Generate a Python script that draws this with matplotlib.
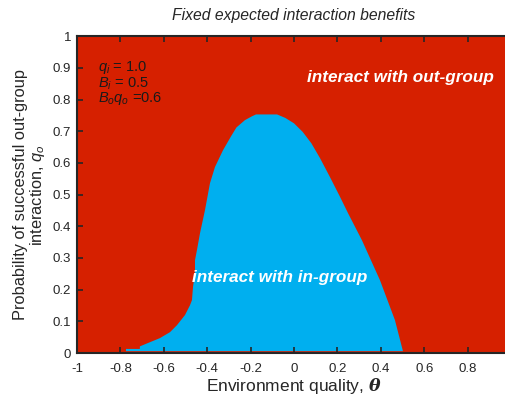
import matplotlib
matplotlib.use("Agg")
import matplotlib.pyplot as plt
import numpy as np

plt.rcParams['font.family'] = ['Liberation Sans', 'DejaVu Sans']
plt.rcParams['mathtext.fontset'] = 'custom'
plt.rcParams['mathtext.it'] = 'Liberation Sans:italic'
plt.rcParams['mathtext.rm'] = 'Liberation Sans'
plt.rcParams['mathtext.bf'] = 'Liberation Sans:bold'
plt.rcParams['mathtext.bfit'] = 'DejaVu Serif:bold:italic'

# Boundary of the "interact with in-group" region
left_theta = [-0.774, -0.774, -0.710, -0.710, -0.668, -0.618, -0.571, -0.539, -0.502,
              -0.479, -0.470, -0.465, -0.456, -0.456, -0.447, -0.433, -0.410, -0.387,
              -0.364, -0.327, -0.290, -0.265, -0.226, -0.194, -0.175]
left_q = [0.006, 0.013, 0.013, 0.021, 0.033, 0.047, 0.066, 0.088, 0.120,
          0.151, 0.167, 0.210, 0.252, 0.293, 0.325, 0.378, 0.451, 0.536,
          0.587, 0.640, 0.684, 0.712, 0.735, 0.747, 0.753]
right_theta = [-0.078, -0.040, 0.000, 0.040, 0.080, 0.120, 0.166, 0.212, 0.250,
               0.313, 0.396, 0.465, 0.502]
right_q = [0.753, 0.742, 0.725, 0.698, 0.662, 0.615, 0.555, 0.493, 0.440,
           0.356, 0.230, 0.104, 0.006]

x_ticks = [-1, -0.8, -0.6, -0.4, -0.2, 0, 0.2, 0.4, 0.6, 0.8]
x_ticklabels = ['-1', '-0.8', '-0.6', '-0.4', '-0.2', '0', '0.2', '0.4', '0.6', '0.8']
y_ticks = [0, 0.1, 0.2, 0.3, 0.4, 0.5, 0.6, 0.7, 0.8, 0.9, 1]
y_ticklabels = ['0', '0.1', '0.2', '0.3', '0.4', '0.5', '0.6', '0.7', '0.8', '0.9', '1']

RED = '#D62000'
BLUE = '#00AFEF'
AX = '#262626'

fig = plt.figure(figsize=(5.06, 4.11), dpi=100)
ax = fig.add_axes([0.152, 0.141, 0.858, 0.771])
ax.set_facecolor(RED)

poly_theta = list(left_theta) + list(right_theta)
poly_q = list(left_q) + list(right_q)
ax.fill(poly_theta, poly_q, color=BLUE, linewidth=0)

ax.set_xlim(-1, 1)
ax.set_ylim(0, 1)
ax.set_xticks(x_ticks)
ax.set_xticklabels(x_ticklabels)
ax.set_yticks(y_ticks)
ax.set_yticklabels(y_ticklabels)
ax.tick_params(direction='in', top=True, right=True, length=4, width=1.2,
               color=AX, labelcolor=AX, labelsize=9.5)
ax.tick_params(axis='x', pad=7)
ax.tick_params(axis='y', pad=4)
for s in ax.spines.values():
    s.set_color(AX)
    s.set_linewidth(1.5)

ax.set_title('Fixed expected interaction benefits', fontstyle='italic',
             fontsize=11.3, color=AX, pad=12)
ax.set_xlabel(r'Environment quality, $\boldsymbol{\theta}$', fontsize=12.5,
              color=AX, labelpad=1)
ax.set_ylabel('Probability of successful out-group\ninteraction, $q_o$',
              fontsize=11.8, color=AX, labelpad=4, linespacing=1.05)

ax.text(-0.905, 0.90, r'$q_i$ = 1.0', fontsize=10.5, color='#1a1a1a', va='center')
ax.text(-0.905, 0.851, r'$B_i$ = 0.5', fontsize=10.5, color='#1a1a1a', va='center')
ax.text(-0.905, 0.802, r'$B_oq_o$ =0.6', fontsize=10.5, color='#1a1a1a', va='center')

ax.text(0.49, 0.868, 'interact with out-group', fontsize=12.3, color='white',
        fontweight='bold', fontstyle='italic', ha='center', va='center')
ax.text(-0.065, 0.237, 'interact with in-group', fontsize=12.3, color='white',
        fontweight='bold', fontstyle='italic', ha='center', va='center')

fig.savefig('out.png', dpi=100, facecolor='white')
